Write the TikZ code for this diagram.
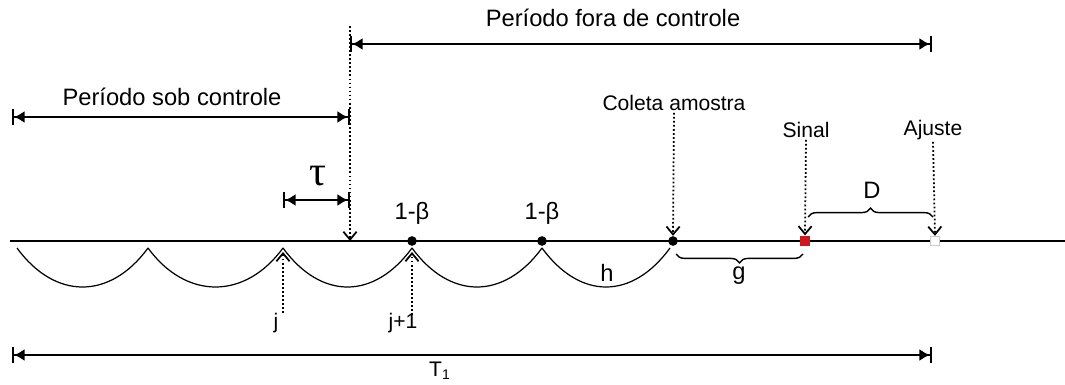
\documentclass[tikz,border=0pt]{standalone}
\usepackage{fontspec}
\setmainfont{Liberation Sans}
\newfontfamily\greekserif{Liberation Serif}
\usetikzlibrary{arrows.meta,decorations.pathreplacing}
\definecolor{signalred}{RGB}{205,25,30}

\begin{document}
\begin{tikzpicture}[x=0.02cm,y=-0.02cm,
  lbl/.style={inner sep=1pt,font=\fontsize{13.5}{16}\selectfont},
  smlbl/.style={inner sep=1pt,font=\fontsize{12}{14}\selectfont},
  span/.style={line width=1.3pt,arrows={Bar[width=9pt,line width=1.2pt]Latex[length=6pt,width=7pt]-Latex[length=6pt,width=7pt]Bar[width=9pt,line width=1.2pt]}},
  pointer/.style={line width=1pt,dash pattern=on 1pt off 1.3pt,-{Straight Barb[length=4.5pt,width=7.5pt,line width=1pt]}},
  dot/.style={circle,fill=black,inner sep=0pt,minimum size=5.5pt},
  curly/.style={line width=0.8pt,decorate,decoration={brace,amplitude=5pt}}]
\useasboundingbox (0,0) rectangle (1065,385);

% Time axis and sampling points
\coordinate (start) at (10,241);
\coordinate (stop) at (1065,241);
\coordinate (p0) at (17,241);
\coordinate (p1) at (148,241);
\coordinate (p2) at (283,241);
\coordinate (shift) at (350,241);
\draw[line width=1.4pt] (start) -- (stop);
\node[dot] (s3) at (412,241) {};
\node[dot] (s4) at (542,241) {};
\node[dot] (s5) at (673,241) {};
\node[fill=signalred,inner sep=0pt,minimum size=6pt] (sig) at (805,241) {};
\node[draw=gray!40,fill=white,inner sep=0pt,minimum size=5.5pt] (adj) at (935,241) {};

% Sampling intervals h
\foreach \a/\b in {17/148,148/283,283/412,412/542,542/670}
  \draw[line width=0.7pt] (\a,248) .. controls +(38,52) and +(-38,52) .. (\b,248);

% Labels
\node[lbl] (fora) at (613,18) {Período fora de controle};
\node[lbl] (sob) at (172,97) {Período sob controle};
\node[font=\greekserif\fontsize{24}{24}\selectfont,inner sep=0pt] (tau) at (318,176) {τ};
\node[lbl] (beta1) at (412,213) {1-β};
\node[lbl] (beta2) at (542,213) {1-β};
\node[smlbl] (coleta) at (674,103) {Coleta amostra};
\node[smlbl] (sinal) at (806,130) {Sinal};
\node[smlbl] (ajuste) at (933,130) {Ajuste};
\node[lbl] (D) at (872,190) {D};
\node[lbl] (g) at (739,276) {g};
\node[lbl] (h) at (607,273) {h};
\node[smlbl] (j) at (276,323) {j};
\node[smlbl] (j1) at (403,323) {j+1};
\node[smlbl] (T1) at (440,371) {T\textsubscript{1}};

% Shift instant
\coordinate (shtop) at (350,26);
\draw[pointer] (shtop) -- (shift);

% Period spans
\coordinate (foraL) at (350,44);
\coordinate (foraR) at (932,44);
\coordinate (sobL) at (12,117);
\coordinate (sobR) at (350,117);
\coordinate (tauL) at (283,200);
\coordinate (tauR) at (350,200);
\coordinate (TL) at (12,355);
\coordinate (TR) at (932,355);
\draw[span] (foraL) -- (foraR);
\draw[span] (sobL) -- (sobR);
\draw[span] (tauL) -- (tauR);
\draw[span] (TL) -- (TR);

% Pointers to the axis
\draw[pointer] (coleta.south) -- (s5.north);
\draw[pointer] (sinal.south) -- (sig.north);
\draw[pointer] (ajuste.south) -- (adj.north);
\coordinate (jfoot) at (283,313);
\coordinate (j1foot) at (412,315);
\draw[pointer] (jfoot) -- (283,252);
\draw[pointer] (j1foot) -- (412,252);

% Braces
\draw[curly] (808,217) -- (933,217);
\draw[curly,decoration={mirror}] (676,254) -- (803,254);
\end{tikzpicture}
\end{document}
